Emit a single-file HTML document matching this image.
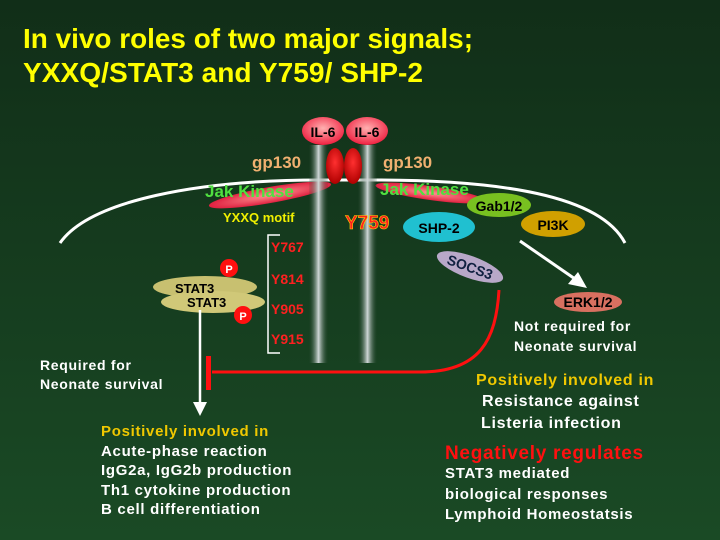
<!DOCTYPE html>
<html><head><meta charset="utf-8"><style>
html,body{margin:0;padding:0;background:#17401f}
svg{display:block}
text{font-family:"Liberation Sans",sans-serif;font-weight:bold}
.w{letter-spacing:0.7px}
</style></head><body>
<svg width="720" height="540" viewBox="0 0 720 540" xmlns="http://www.w3.org/2000/svg">
<defs>
<linearGradient id="bg" x1="0" y1="0" x2="0" y2="1"><stop offset="0" stop-color="#112e18"/><stop offset="1" stop-color="#1a4a25"/></linearGradient>
<linearGradient id="rod" x1="0" y1="0" x2="1" y2="0"><stop offset="0" stop-color="#1f4028" stop-opacity="0.1"/><stop offset="0.5" stop-color="#d0d8d8"/><stop offset="1" stop-color="#1f4028" stop-opacity="0.1"/></linearGradient>
<radialGradient id="il" cx="0.5" cy="0.4" r="0.6"><stop offset="0" stop-color="#ffb0b0"/><stop offset="1" stop-color="#f02040"/></radialGradient>
<radialGradient id="rd" cx="0.5" cy="0.4" r="0.6"><stop offset="0" stop-color="#ff3030"/><stop offset="1" stop-color="#b00000"/></radialGradient>
<radialGradient id="jk" cx="0.5" cy="0.5" r="0.5"><stop offset="0" stop-color="#ff9090"/><stop offset="1" stop-color="#e02040"/></radialGradient>
</defs>
<rect width="720" height="540" fill="url(#bg)"/>
<text x="23" y="48" font-size="28" fill="#ffff00" textLength="450" lengthAdjust="spacingAndGlyphs">In vivo roles of two major signals;</text>
<text x="23" y="82" font-size="28" fill="#ffff00" textLength="400" lengthAdjust="spacingAndGlyphs">YXXQ/STAT3 and Y759/ SHP-2</text>

<path d="M60,243 C90,200 200,180 320,180 L372,180 C500,180 600,195 625,243" fill="none" stroke="#fff" stroke-width="3"/>

<ellipse cx="270" cy="195" rx="62" ry="8" fill="url(#jk)" transform="rotate(-10 270 195)"/>
<ellipse cx="430" cy="193" rx="55" ry="7" fill="url(#jk)" transform="rotate(8 430 193)"/>

<rect x="309" y="145" width="19" height="218" fill="url(#rod)"/>
<rect x="358" y="145" width="19" height="218" fill="url(#rod)"/>
<ellipse cx="335" cy="166" rx="9" ry="18" fill="url(#rd)"/>
<ellipse cx="353" cy="166" rx="9" ry="18" fill="url(#rd)"/>
<ellipse cx="323" cy="131" rx="21" ry="14" fill="url(#il)"/>
<ellipse cx="367" cy="131" rx="21" ry="14" fill="url(#il)"/>
<text x="323" y="137" font-size="14" text-anchor="middle" fill="#000">IL-6</text>
<text x="367" y="137" font-size="14" text-anchor="middle" fill="#000">IL-6</text>

<text x="252" y="168" font-size="17" fill="#f0b070">gp130</text>
<text x="383" y="168" font-size="17" fill="#f0b070">gp130</text>
<text x="205" y="197" font-size="17" fill="#50e040">Jak Kinase</text>
<text x="380" y="195" font-size="17" fill="#50e040">Jak Kinase</text>
<text x="223" y="222" font-size="13" fill="#f0f000">YXXQ motif</text>
<text x="345" y="229" font-size="19" fill="#ff2020" stroke="#ffd000" stroke-width="0.6">Y759</text>

<path d="M280,235 L268,235 L268,353 L280,353" fill="none" stroke="#fff" stroke-width="1.5"/>
<text x="271" y="252" font-size="14" fill="#ff2020">Y767</text>
<text x="271" y="284" font-size="14" fill="#ff2020">Y814</text>
<text x="271" y="314" font-size="14" fill="#ff2020">Y905</text>
<text x="271" y="344" font-size="14" fill="#ff2020">Y915</text>

<ellipse cx="205" cy="287" rx="52" ry="11" fill="#c8c070"/>
<ellipse cx="213" cy="302" rx="52" ry="11" fill="#d0c878"/>
<text x="175" y="293" font-size="13" fill="#000">STAT3</text>
<text x="187" y="307" font-size="13" fill="#000">STAT3</text>
<circle cx="229" cy="268" r="9" fill="#ff1010"/><text x="229" y="273" font-size="11" fill="#fff" text-anchor="middle">P</text>
<circle cx="243" cy="315" r="9" fill="#ff1010"/><text x="243" y="320" font-size="11" fill="#fff" text-anchor="middle">P</text>

<ellipse cx="499" cy="205" rx="32" ry="12" fill="#78c020"/>
<text x="499" y="211" font-size="14" fill="#000" text-anchor="middle">Gab1/2</text>
<ellipse cx="553" cy="224" rx="32" ry="13" fill="#d0a000"/>
<text x="553" y="230" font-size="14" fill="#000" text-anchor="middle">PI3K</text>
<ellipse cx="439" cy="227" rx="36" ry="15" fill="#20c0d0"/>
<text x="439" y="233" font-size="14" fill="#000" text-anchor="middle">SHP-2</text>
<ellipse cx="470" cy="267" rx="35" ry="11" fill="#b8a8c8" transform="rotate(20 470 267)"/>
<text x="470" y="272" font-size="14" fill="#102040" text-anchor="middle" transform="rotate(20 470 267)">SOCS3</text>
<ellipse cx="588" cy="302" rx="34" ry="10" fill="#d87060"/>
<text x="588" y="307" font-size="14" fill="#000" text-anchor="middle">ERK1/2</text>

<line x1="520" y1="241" x2="578" y2="281" stroke="#fff" stroke-width="3"/>
<polygon points="587,288 568,284 578,272" fill="#fff"/>

<path d="M499,290 C496,340 480,372 420,372 L212,372" fill="none" stroke="#ff1010" stroke-width="3"/>
<rect x="206" y="356" width="5" height="34" fill="#ff1010"/>

<line x1="200" y1="310" x2="200" y2="403" stroke="#fff" stroke-width="2.5"/>
<polygon points="193,402 207,402 200,416" fill="#fff"/>

<g class="w">
<text x="40" y="370" font-size="14" fill="#fff">Required for</text>
<text x="40" y="389" font-size="14" fill="#fff">Neonate survival</text>
<text x="514" y="331" font-size="14" fill="#fff">Not required for</text>
<text x="514" y="351" font-size="14" fill="#fff">Neonate survival</text>

<text x="101" y="436" font-size="15" fill="#f0c800">Positively involved in</text>
<text x="101" y="456" font-size="15" fill="#fff">Acute-phase reaction</text>
<text x="101" y="475" font-size="15" fill="#fff">IgG2a, IgG2b production</text>
<text x="101" y="495" font-size="15" fill="#fff">Th1 cytokine production</text>
<text x="101" y="514" font-size="15" fill="#fff">B cell differentiation</text>

<text x="476" y="385" font-size="16" fill="#f0c800">Positively involved in</text>
<text x="482" y="406" font-size="16" fill="#fff">Resistance against</text>
<text x="481" y="428" font-size="16" fill="#fff">Listeria infection</text>
<text x="445" y="459" font-size="19" fill="#ff1010">Negatively regulates</text>
<text x="445" y="478" font-size="15" fill="#fff">STAT3 mediated</text>
<text x="445" y="499" font-size="15" fill="#fff">biological responses</text>
<text x="445" y="519" font-size="15" fill="#fff">Lymphoid Homeostatsis</text>
</g>
</svg>
</body></html>
